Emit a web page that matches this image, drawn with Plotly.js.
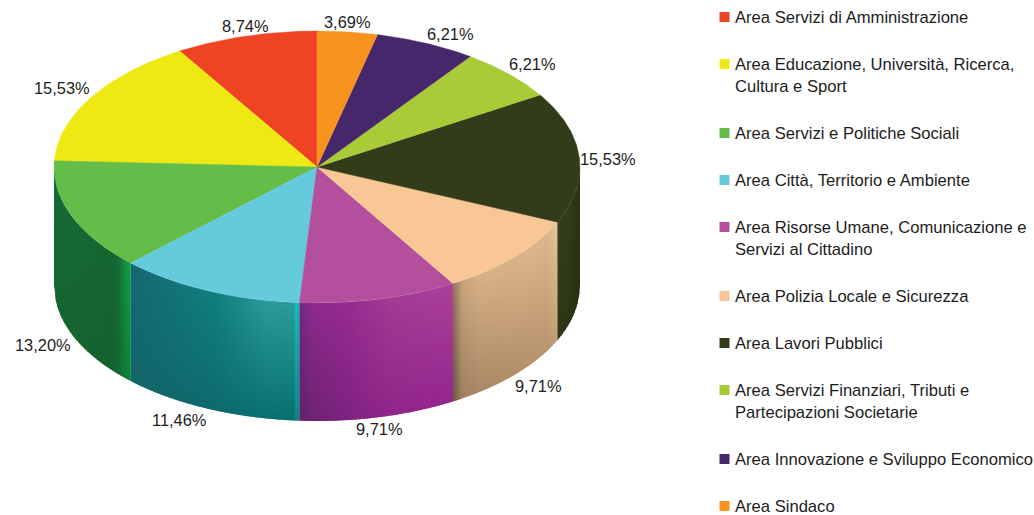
<!DOCTYPE html>
<html><head><meta charset="utf-8">
<script src="https://cdn.plot.ly/plotly-3.0.1.min.js"></script>
<style>html,body{margin:0;padding:0;background:#fff;overflow:hidden}#c{width:1034px;height:515px}</style>
</head><body><div id="c"></div>
<script>
const categories = ["Area Servizi di Amministrazione","Area Educazione, Università, Ricerca,<br>Cultura e Sport","Area Servizi e Politiche Sociali","Area Città, Territorio e Ambiente","Area Risorse Umane, Comunicazione e<br>Servizi al Cittadino","Area Polizia Locale e Sicurezza","Area Lavori Pubblici","Area Servizi Finanziari, Tributi e<br>Partecipazioni Societarie","Area Innovazione e Sviluppo Economico","Area Sindaco"];
const values = [8.74,15.53,13.20,11.46,9.71,9.71,15.53,6.21,6.21,3.69];
const colors = ["#ef4423","#efe913","#65bd49","#65cbdc","#b44f9e","#f8c795","#333c19","#a9cb37","#47276b","#f7931e"];
// outside label centres (px), same order as values
const labelX = [245,62,43,179,379,538,608,532,450,347];
const labelY = [26,88,345,420,429,386,159,64,34,22];
// side wall shading: [position across the wall, top colour, bottom colour]
const wallShades = {
  2:[[0,"#176a38","#15662f"],[0.76,"#15662f","#14622f"],[0.84,"#176c38","#146632"],[0.93,"#12933f","#0f7c38"],[1,"#0fa048","#0d8039"]],
  3:[[0,"#156870","#12666a"],[0.5,"#0f7f7e","#0e6a6c"],[0.8,"#2b9a98","#07706f"],[0.965,"#2a9c98","#06706f"],[0.98,"#12c4c4","#0a8a8c"],[1,"#0eb0b2","#0a7e80"]],
  4:[[0,"#70287c","#5f2468"],[0.08,"#8c2a8c","#6d2272"],[0.3,"#962a90","#7d2280"],[0.6,"#a33a94","#912488"],[1,"#ab4098","#942690"]],
  5:[[0,"#8e7258","#6e5540"],[0.09,"#c7a57f","#a08060"],[0.25,"#d8b185","#a98866"],[0.9,"#deb88c","#b8946e"],[1,"#e6c49c","#c2a078"]],
  6:[[0,"#363f1c","#2e3717"],[0.7,"#2f3818","#2a3313"],[1,"#2b3414","#262e12"]]
};
// pie geometry
const cx=317, cy=167, rx=263, ry=136, depth=118;
const total=values.reduce((a,b)=>a+b,0);
const ends=[]; let run=0;
values.forEach(v=>{const s=360-run*360/total; run+=v; ends.push([360-run*360/total,s]);});
const px=t=>cx+rx*Math.sin(t*Math.PI/180), py=t=>cy-ry*Math.cos(t*Math.PI/180);
const hex=c=>[1,3,5].map(i=>parseInt(c.substr(i,2),16));
const mix=(a,b,f)=>{const A=hex(a),B=hex(b);return 'rgb('+A.map((v,i)=>Math.round(v+(B[i]-v)*f)).join(',')+')';};
const shade=(st,u,k)=>{for(let i=1;i<st.length;i++){if(u<=st[i][0]){return mix(st[i-1][k],st[i][k],(u-st[i-1][0])/(st[i][0]-st[i-1][0]));}}return st[st.length-1][k];};
const front=x=>cy+ry*Math.sqrt(Math.max(0,1-Math.pow((x-cx)/rx,2)));
const traces=[];
// side walls as narrow columns
Object.keys(wallShades).map(Number).forEach(i=>{
  const a=Math.max(ends[i][0],90), b=Math.min(ends[i][1],270);
  const xs=Math.min(px(a),px(b)), xe=Math.max(px(a),px(b));
  const st=wallShades[i], step=1.5;
  for(let x=xs;x<xe-0.01;x+=step){
    const x2=Math.min(x+step+1,xe), um=Math.min(1,(x+step/2-xs)/(xe-xs));
    const X=[x,x2,x2,x,x], t1=front(x), t2=front(x2);
    const Y=[t1,t2,t2+depth,t1+depth,t1];
    traces.push({type:'scatter',mode:'lines',x:X,y:Y,fill:'toself',line:{width:0},hoverinfo:'skip',showlegend:false,
      fillgradient:{type:'vertical',start:Math.min(t1,t2),stop:Math.max(t1,t2)+depth,
        colorscale:[[0,shade(st,um,1)],[1,shade(st,um,2)]]}});
  }
});
// top surface slices
values.forEach((v,i)=>{
  const X=[cx],Y=[cy];
  for(let k=0;k<=60;k++){const t=ends[i][0]+(ends[i][1]-ends[i][0])*k/60;X.push(px(t));Y.push(py(t));}
  X.push(cx);Y.push(cy);
  traces.push({type:'scatter',mode:'lines',x:X,y:Y,fill:'toself',fillcolor:colors[i],line:{color:colors[i],width:0.4},name:categories[i],text:values[i]+'%',hoverinfo:'name+text',showlegend:false});
});
// legend layout
const legX=724.5, legTx=734, singleH=22, gap=25;
let ly=17; const legYs=[];
const lines=categories.map(c=>c.split('<br>').length);
lines.forEach(n=>{legYs.push(ly);ly+=n*singleH+gap;});
traces.push({type:'scatter',mode:'markers',x:categories.map(()=>legX),y:legYs,marker:{symbol:'square',size:10,color:colors},hoverinfo:'skip',showlegend:false});
const font={family:'"Liberation Sans",Arial,sans-serif',size:16.4,color:'#1c1c1c'};
const legFont={family:'"Liberation Sans",Arial,sans-serif',size:16.6,color:'#1c1c1c'};
const annotations=[];
values.forEach((v,i)=>annotations.push({x:labelX[i],y:labelY[i],xref:'x',yref:'y',text:v.toFixed(2).replace('.',',')+'%',showarrow:false,font:font,xanchor:'center',yanchor:'middle'}));
categories.forEach((c,i)=>annotations.push({x:legTx,y:legYs[i]-10,xref:'x',yref:'y',text:c,showarrow:false,font:legFont,xanchor:'left',yanchor:'top',align:'left',borderpad:0}));
const layout={width:1034,height:515,margin:{l:0,r:0,t:0,b:0},paper_bgcolor:'#fff',plot_bgcolor:'#fff',showlegend:false,
  xaxis:{range:[0,1034],visible:false,fixedrange:true},yaxis:{range:[515,0],visible:false,fixedrange:true},annotations:annotations};
Plotly.newPlot('c',traces,layout,{displayModeBar:false});
</script></body></html>
